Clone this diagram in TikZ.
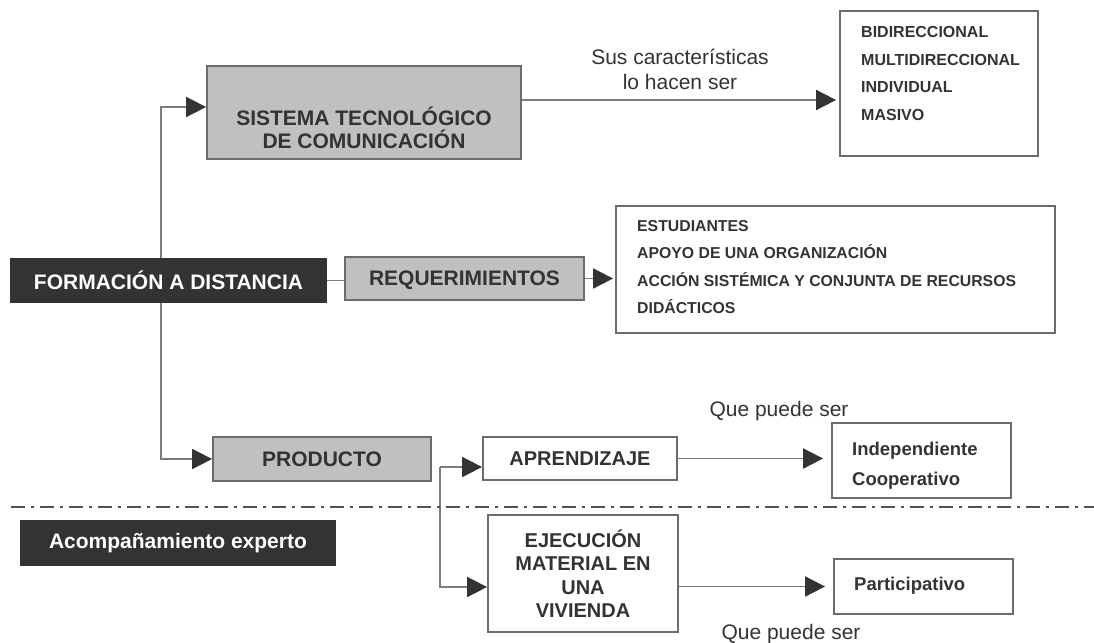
\documentclass[tikz,border=0pt]{standalone}
\usepackage{fontspec}
\setmainfont{Liberation Sans}
\usetikzlibrary{arrows.meta}

\definecolor{gris}{HTML}{BFC0C2}
\definecolor{borde}{HTML}{6C6C6C}
\definecolor{trazo}{HTML}{7C7C7C}
\definecolor{oscuro}{HTML}{333333}

\tikzset{
  caja/.style={draw=borde, line width=1.8pt, inner sep=0pt},
  cajagris/.style={caja, fill=gris, text=oscuro, align=center, font=\bfseries\fontsize{21}{23}\selectfont},
  cajanegra/.style={caja, draw=oscuro, fill=oscuro, text=white, font=\bfseries\fontsize{21}{23}\selectfont},
  cajablanca/.style={caja, fill=white, text=oscuro, align=center, font=\bfseries\fontsize{20}{23.5}\selectfont},
  lista/.style={inner sep=0pt, text=oscuro, align=left, anchor=north west},
  rotulo/.style={inner sep=0pt, text=oscuro, align=center, font=\fontsize{21}{25}\selectfont},
  linea/.style={draw=trazo, line width=1.8pt},
  flecha/.style={linea, -{Triangle[length=20pt,width=20pt,color=oscuro]}},
  divisor/.style={draw=oscuro!85, line width=2.5pt, dash pattern=on 14pt off 6pt on 3pt off 6pt},
}

\begin{document}
\begin{tikzpicture}[x=1pt,y=-1pt]
\useasboundingbox (0,0) rectangle (1094,642);

% cajas de la izquierda
\node [cajanegra, minimum width=315pt, minimum height=43pt] (formacion) at (168.5,280.5) {FORMACIÓN A DISTANCIA};
\node [cajagris, minimum width=314pt, minimum height=93pt] (sistema) at (364,112.5) {}; % Sistema
\node [rotulo, font=\bfseries\fontsize{21}{23}\selectfont] (sistematxt) at (364,128) {SISTEMA TECNOLÓGICO\\DE COMUNICACIÓN};
\node [cajagris, minimum width=239pt, minimum height=43pt, text depth=0pt] (req) at (464.5,278.5) {REQUERIMIENTOS};
\node [cajagris, minimum width=218pt, minimum height=44pt] (producto) at (322,459) {PRODUCTO};
\node [cajanegra, minimum width=314pt, minimum height=44pt] (acomp) at (178,543) {Acompañamiento experto};

% cajas de la derecha
\node [caja, minimum width=198pt, minimum height=145pt] (caract) at (939,83.5) {};
\node [lista, font=\bfseries\fontsize{16}{27.6}\selectfont] (caracttxt) at (861,26.3)
  {BIDIRECCIONAL\\MULTIDIRECCIONAL\\INDIVIDUAL\\MASIVO};
\node [caja, minimum width=439pt, minimum height=127pt] (requisitos) at (835.5,269.5) {};
\node [lista, font=\bfseries\fontsize{15.8}{27.3}\selectfont] (requisitostxt) at (637,220.4)
  {ESTUDIANTES\\APOYO DE UNA ORGANIZACIÓN\\ACCIÓN SISTÉMICA Y CONJUNTA DE RECURSOS\\DIDÁCTICOS};

\node [cajablanca, minimum width=194pt, minimum height=43pt] (aprendizaje) at (580,458.5) {APRENDIZAJE};
\node [cajablanca, minimum width=190pt, minimum height=117pt] (ejecucion) at (583,573.5) {EJECUCIÓN\\MATERIAL EN\\UNA\\VIVIENDA};
\node [caja, minimum width=179pt, minimum height=75pt] (indep) at (921.5,460.5) {};
\node [lista, font=\bfseries\fontsize{18.5}{30}\selectfont] (indeptxt) at (852,441.4) {Independiente\\Cooperativo};
\node [caja, minimum width=179pt, minimum height=55pt] (part) at (923.5,586.5) {};
\node [lista, font=\bfseries\fontsize{18.5}{30}\selectfont] (parttxt) at (854,576.4) {Participativo};

% rotulos
\node [rotulo] (rot1) at (680,69.5) {Sus características\\lo hacen ser};
\node [rotulo] (rot2) at (779,411) {Que puede ser};
\node [rotulo] (rot3) at (791,634) {Que puede ser};

% conectores
\coordinate (s1) at ([yshift=12.5pt]sistema.east);
\coordinate (rama) at (440,467);
\draw [flecha] ([xshift=-7.5pt]formacion.north) |- ([yshift=5.5pt]sistema.west);
\draw [flecha] ([xshift=-7.5pt]formacion.south) |- (producto.west);
\draw [linea] (formacion.east) -- (formacion.east -| req.west);
\draw [flecha, shorten >=3pt] (s1) -- (s1 -| caract.west);
\draw [flecha, shorten >=2pt] (req.east) -- (req.east -| requisitos.west);
\draw [flecha] (rama) -- (rama -| aprendizaje.west);
\draw [flecha] (rama) |- ([yshift=-13.5pt]ejecucion.west);
\draw [flecha, shorten >=8pt] (aprendizaje.east) -- (aprendizaje.east -| indep.west);
\draw [flecha, shorten >=8pt] (ejecucion.east |- part.west) -- (part.west);

% linea divisoria
\draw [divisor] (11,507) -- (1094,507);

\end{tikzpicture}
\end{document}
